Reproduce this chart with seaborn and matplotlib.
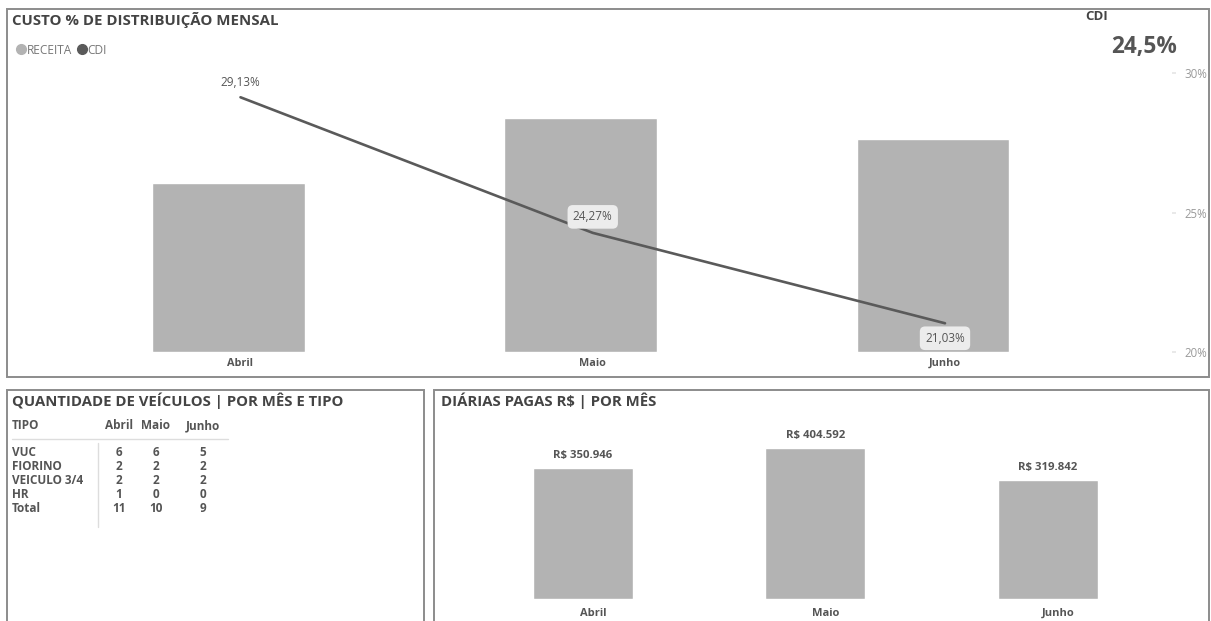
import numpy as np
import seaborn as sns
import matplotlib.pyplot as plt
from matplotlib.lines import Line2D
from matplotlib.patches import Rectangle
from matplotlib.transforms import ScaledTranslation, blended_transform_factory

# dados
meses = ['Abril', 'Maio', 'Junho']
receita = [60.6, 83.9, 76.3]          # eixo oculto (escala relativa)
cdi = [29.13, 24.27, 21.03]
cdi_card = 24.5
tipos = ['VUC', 'FIORINO', 'VEICULO 3/4', 'HR']
qtd_abril = [6, 2, 2, 1]
qtd_maio = [6, 2, 2, 0]
qtd_junho = [5, 2, 2, 0]
diarias = [350946, 404592, 319842]

sns.set_theme(style='white')
plt.rcParams['font.family'] = ['Open Sans', 'DejaVu Sans']

W, H = 1211, 621
fig = plt.figure(figsize=(W / 100, H / 100), dpi=100)
fig.patch.set_facecolor('white')

BAR = '#b3b3b3'
LINE = '#5a5a5a'
TXT = '#555555'
TITLE = '#444444'


def px_rect(l, t, r, b):
    return [l / W, 1 - b / H, (r - l) / W, (b - t) / H]


def fx(x):
    return x / W


def fy(y):
    return 1 - y / H


def shift(dx, dy):
    return ScaledTranslation(dx / 100, -dy / 100, fig.dpi_scale_trans)


# molduras
for l, t, r, b in [(7, 9, 1209, 377), (7, 390, 424, 640), (434, 390, 1209, 640)]:
    fig.add_artist(Rectangle((fx(l), fy(b)), (r - l) / W, (b - t) / H,
                             transform=fig.transFigure, fill=False,
                             ec='#8c8c8c', lw=1.4))

# ---- grafico superior ----
ax1 = fig.add_axes(px_rect(12, 73, 1172, 352))
sns.barplot(x=meses, y=receita, color=BAR, width=0.434, saturation=1, ax=ax1)
ax1.set_xlim(-0.6146, 2.6785)
ax1.set_ylim(0, 100)
ax1.set_xlabel('')
ax1.set_ylabel('')
ax1.set_xticks([])
ax1.set_yticks([])
sns.despine(ax=ax1, left=True, bottom=True)

ax2 = ax1.twinx()
sns.lineplot(x=meses, y=cdi, sort=False, color=LINE, lw=1.9, ax=ax2)
off = shift(12, 0)
ax2.lines[0].set_transform(ax2.lines[0].get_transform() + off)
ax2.set_ylim(20, 30)
ax2.set_yticks([20, 25, 30])
ax2.yaxis.set_major_formatter(lambda v, p: f'{v:.0f}%')
ax2.tick_params(axis='y', right=True, length=3, color='#e6e6e6', pad=6,
                labelsize=8.3, labelcolor='#9a9a9a')
ax2.set_ylabel('')
for s in ax2.spines.values():
    s.set_visible(False)

dys = [-15, -16, 15]
for i, (v, dy) in enumerate(zip(cdi, dys)):
    box = None
    if i > 0:
        box = dict(boxstyle='round,pad=0.45', fc='#ececec', ec='none')
    ax2.annotate(f'{v:.2f}%'.replace('.', ','), xy=(i, v), xycoords='data',
                 xytext=(12 * 0.72, -dy * 0.72), textcoords='offset points',
                 ha='center', va='center', fontsize=8.5, color=TXT, bbox=box)

tr = blended_transform_factory(ax1.transData, ax1.transAxes)
for i, m in enumerate(meses):
    ax1.text(i, 0, m, transform=tr + shift(12, 14), ha='center', va='baseline',
             fontsize=7.8, fontweight='bold', color=TXT)

fig.text(fx(12), fy(20), 'CUSTO % DE DISTRIBUIÇÃO MENSAL', fontsize=10.8,
         fontweight='bold', color=TITLE, va='center')
fig.legend(handles=[Line2D([], [], marker='o', ls='', color=BAR, markersize=7),
                    Line2D([], [], marker='o', ls='', color=LINE, markersize=7)],
           labels=['RECEITA', 'CDI'], loc='center left',
           bbox_to_anchor=(fx(4), fy(50)), ncol=2, frameon=False,
           handletextpad=0.0, columnspacing=0.3, handlelength=1.0,
           fontsize=8.6, labelcolor='#777777')
fig.text(fx(1085), fy(17), 'CDI', fontsize=9.5, fontweight='bold',
         color=TITLE, va='center')
fig.text(fx(1177), fy(47), f'{cdi_card:.1f}%'.replace('.', ','), fontsize=16.3,
         fontweight='bold', color=TXT, va='center', ha='right')

# ---- tabela ----
FS = 8.5
fig.text(fx(12), fy(401), 'QUANTIDADE DE VEÍCULOS | POR MÊS E TIPO', fontsize=10.7,
         fontweight='bold', color=TITLE, va='center')
cols_x = [119, 156, 203]
fig.text(fx(12), fy(429), 'TIPO', fontsize=FS, fontweight='bold', color=TXT, va='baseline')
for x, m in zip(cols_x, meses):
    fig.text(fx(x), fy(429), m, fontsize=FS, fontweight='bold', color=TXT,
             va='baseline', ha='center')
fig.add_artist(Line2D([fx(12), fx(228)], [fy(439), fy(439)], color='#dddddd', lw=1))
fig.add_artist(Line2D([fx(98), fx(98)], [fy(443), fy(527)], color='#dddddd', lw=1))

linhas = list(zip(tipos, qtd_abril, qtd_maio, qtd_junho))
linhas.append(('Total', sum(qtd_abril), sum(qtd_maio), sum(qtd_junho)))
for r, row in enumerate(linhas):
    y = 456 + 14 * r
    fig.text(fx(12), fy(y), row[0], fontsize=FS, fontweight='bold', color=TXT, va='baseline')
    for x, v in zip(cols_x, row[1:]):
        fig.text(fx(x), fy(y), str(v), fontsize=FS, fontweight='bold', color=TXT,
                 va='baseline', ha='center')

# ---- diarias ----
ax3 = fig.add_axes(px_rect(440, 420, 1200, 599))
sns.barplot(x=meses, y=diarias, color=BAR, width=0.43, saturation=1, ax=ax3)
ax3.set_xlim(-0.615, 2.654)
ax3.set_ylim(0, 479500)
ax3.set_xlabel('')
ax3.set_ylabel('')
ax3.set_xticks([])
ax3.set_yticks([])
sns.despine(ax=ax3, left=True, bottom=True)
for i, v in enumerate(diarias):
    ax3.annotate(f'R$ {v:,.0f}'.replace(',', '.'), xy=(i, v), xytext=(0, 12 * 0.72),
                 textcoords='offset points', ha='center', va='center',
                 fontsize=8.2, fontweight='bold', color=TXT)
tr3 = blended_transform_factory(ax3.transData, ax3.transAxes)
for i, m in enumerate(meses):
    ax3.text(i, 0, m, transform=tr3 + shift(10, 17), ha='center', va='baseline',
             fontsize=8, fontweight='bold', color=TXT)
fig.text(fx(441), fy(401), 'DIÁRIAS PAGAS R$ | POR MÊS', fontsize=10.7,
         fontweight='bold', color=TITLE, va='center')

fig.savefig('out.png', dpi=100, facecolor='white')
